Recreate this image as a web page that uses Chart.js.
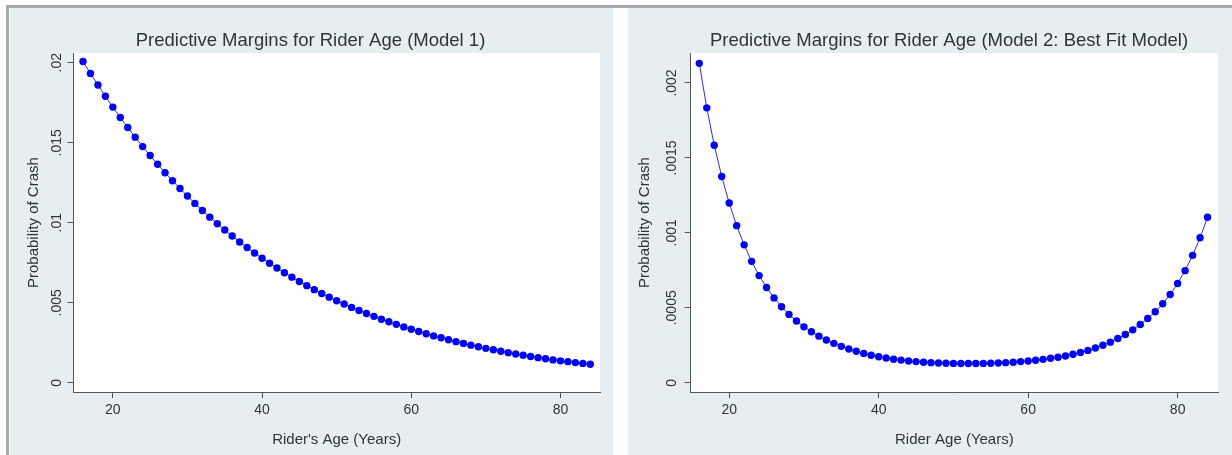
<!DOCTYPE html>
<html>
<head>
<meta charset="utf-8">
<script src="https://cdn.jsdelivr.net/npm/chart.js@4/dist/chart.umd.min.js"></script>
<style>
  body { margin: 0; background: #fff; width: 1232px; height: 455px; overflow: hidden; position: relative; }
  .frame { position: absolute; left: 6px; top: 5px; width: 1240px; height: 460px; border-top: 3px solid #a9a9a9; border-left: 3px solid #a9a9a9; }
  .panel { position: absolute; top: 8px; height: 447px; background: #e7eef2; overflow: hidden; }
  #leftPanel { left: 10px; width: 603px; }
  #rightPanel { left: 628px; width: 604px; }
  canvas { position: absolute; left: 0; top: 0; }
</style>
</head>
<body>
<div class="frame"></div>
<div class="panel" id="leftPanel"><canvas id="model1Chart" width="601" height="447"></canvas></div>
<div class="panel" id="rightPanel"><canvas id="model2Chart" width="642" height="447"></canvas></div>

<script>
const ages = [
  16, 17, 18, 19, 20, 21, 22, 23, 24, 25, 26, 27, 28, 29, 30, 31, 32, 33, 34, 35, 36, 37, 38,
  39, 40, 41, 42, 43, 44, 45, 46, 47, 48, 49, 50, 51, 52, 53, 54, 55, 56, 57, 58, 59, 60, 61,
  62, 63, 64, 65, 66, 67, 68, 69, 70, 71, 72, 73, 74, 75, 76, 77, 78, 79, 80, 81, 82, 83, 84
];

// Model 1: predicted probability of crash by rider age
const model1Prob = [
  0.02008, 0.01933, 0.01861, 0.01791, 0.01723, 0.01658, 0.01595, 0.01535, 0.01476, 0.01420,
  0.01366, 0.01313, 0.01263, 0.01214, 0.01167, 0.01121, 0.01077, 0.01035, 0.00994, 0.00955,
  0.00917, 0.00880, 0.00845, 0.00811, 0.00778, 0.00747, 0.00717, 0.00688, 0.00660, 0.00633,
  0.00607, 0.00582, 0.00558, 0.00535, 0.00513, 0.00492, 0.00471, 0.00452, 0.00433, 0.00415,
  0.00397, 0.00381, 0.00365, 0.00349, 0.00334, 0.00320, 0.00306, 0.00293, 0.00281, 0.00269,
  0.00257, 0.00246, 0.00235, 0.00225, 0.00215, 0.00206, 0.00197, 0.00188, 0.00180, 0.00172,
  0.00164, 0.00157, 0.00150, 0.00143, 0.00137, 0.00132, 0.00126, 0.00121, 0.00116
];

// Model 2 (best fit): U-shaped curve
const model2Prob = [
  0.002131, 0.001834, 0.001585, 0.001376, 0.001199, 0.001048, 0.000920, 0.000810, 0.000715, 0.000636,
  0.000566, 0.000507, 0.000456, 0.000412, 0.000373, 0.000340, 0.000311, 0.000285, 0.000263, 0.000243,
  0.000225, 0.000210, 0.000196, 0.000184, 0.000174, 0.000165, 0.000157, 0.000151, 0.000145, 0.000141,
  0.000137, 0.000134, 0.000132, 0.000130, 0.000129, 0.000128, 0.000128, 0.000128, 0.000129, 0.000130,
  0.000132, 0.000134, 0.000137, 0.000141, 0.000145, 0.000150, 0.000156, 0.000163, 0.000170, 0.000179,
  0.000190, 0.000202, 0.000216, 0.000232, 0.000250, 0.000271, 0.000295, 0.000322, 0.000353, 0.000389,
  0.000429, 0.000474, 0.000527, 0.000589, 0.000662, 0.000748, 0.000850, 0.000967, 0.001104
];

const xTicks = [20, 40, 60, 80];
const model1YTicks = [0, 0.005, 0.01, 0.015, 0.02];
const model1YLabels = ['0', '.005', '.01', '.015', '.02'];
const model2YTicks = [0, 0.0005, 0.001, 0.0015, 0.002];
const model2YLabels = ['0', '.0005', '.001', '.0015', '.002'];

const FONT = "'Liberation Sans', Arial, sans-serif";
const AXIS = '#555';
const TEXT = '#333';

const plotBg = {
  id: 'plotBg',
  beforeDraw(chart) {
    const { ctx, chartArea: a } = chart;
    ctx.save();
    ctx.fillStyle = '#ffffff';
    ctx.fillRect(a.left, a.top, a.width, a.height);
    ctx.restore();
  }
};

function drawPanel(id, probs, yTicks, yLabels, s) {
  new Chart(document.getElementById(id), {
    type: 'line',
    data: {
      datasets: [{
        data: ages.map((a, i) => ({ x: a, y: probs[i] })),
        borderColor: '#2a2aff',
        borderWidth: 1,
        pointRadius: 3.7,
        pointHoverRadius: 3.7,
        pointBackgroundColor: '#0000ff',
        pointBorderWidth: 0,
        tension: 0,
        clip: false
      }]
    },
    options: {
      responsive: false,
      animation: false,
      events: [],
      layout: { padding: 0 },
      plugins: {
        legend: { display: false },
        tooltip: { enabled: false },
        title: {
          display: true,
          text: s.title,
          color: TEXT,
          font: { family: FONT, size: 18.5, weight: 'normal' },
          padding: { top: 21.4, bottom: 1.4 }
        }
      },
      scales: {
        x: {
          type: 'linear',
          bounds: 'data',
          min: s.xMin,
          max: s.xMax,
          afterBuildTicks: sc => { sc.ticks = xTicks.map(v => ({ value: v })); },
          afterFit: sc => { sc.height = 62.8; },
          ticks: { color: TEXT, font: { family: FONT, size: 14 }, padding: 4, autoSkip: false, maxRotation: 0 },
          grid: { drawOnChartArea: false, color: AXIS, tickLength: 6 },
          border: { color: AXIS, width: 1 },
          title: { display: true, text: s.xTitle, color: TEXT, font: { family: FONT, size: 15 }, padding: { top: 0, bottom: 6 } }
        },
        y: {
          type: 'linear',
          bounds: 'data',
          min: s.yMin,
          max: s.yMax,
          afterBuildTicks: sc => { sc.ticks = yTicks.map(v => ({ value: v })); },
          afterFit: sc => { sc.width = s.yWidth; },
          ticks: {
            color: TEXT,
            font: { family: FONT, size: 14 },
            minRotation: 90,
            maxRotation: 90,
            crossAlign: 'center',
            padding: s.yTickPad,
            autoSkip: false,
            callback: (v, i) => yLabels[i]
          },
          grid: { drawOnChartArea: false, color: AXIS, tickLength: 6 },
          border: { color: AXIS, width: 1 },
          title: { display: true, text: 'Probability of Crash', color: TEXT, font: { family: FONT, size: 15 }, padding: { top: s.yTitlePad, bottom: 0 } }
        },
        // empty right-hand margin, so the title centres where the original one does
        margin: {
          type: 'linear',
          position: 'right',
          min: 0,
          max: 1,
          afterFit: sc => { sc.width = s.rightGap; },
          ticks: { display: false },
          grid: { display: false },
          border: { display: false }
        }
      }
    },
    plugins: [plotBg]
  });
}

drawPanel('model1Chart', model1Prob, model1YTicks, model1YLabels, {
  title: 'Predictive Margins for Rider Age (Model 1)',
  xTitle: "Rider's Age (Years)",
  yWidth: 63.3, rightGap: 11, yTitlePad: 15, yTickPad: -3.5,
  xMin: 14.7, xMax: 85.3, yMin: -0.00059, yMax: 0.02061
});

drawPanel('model2Chart', model2Prob, model2YTicks, model2YLabels, {
  title: 'Predictive Margins for Rider Age (Model 2: Best Fit Model)',
  xTitle: 'Rider Age (Years)',
  yWidth: 62.7, rightGap: 52, yTitlePad: 8, yTickPad: -4.6,
  xMin: 14.85, xMax: 85.4, yMin: -0.000063, yMax: 0.0022
});
</script>
</body>
</html>
